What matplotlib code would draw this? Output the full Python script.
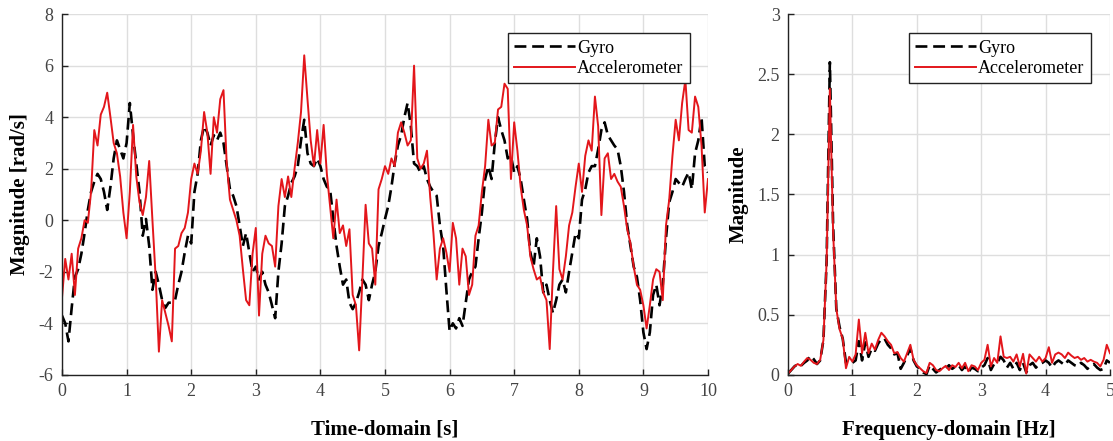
import numpy as np
import matplotlib
matplotlib.use("Agg")
import matplotlib.pyplot as plt
from matplotlib.ticker import FuncFormatter

# time-domain samples, every 0.05 s
time_s = np.round(np.arange(201) * 0.05, 2)

gyro_t = [
    -3.7, -4.0, -4.7, -3.4, -2.2, -1.9, -1.3, -0.5, 0.4, 1.1,
    1.5, 1.8, 1.6, 1.1, 0.4, 1.3, 2.4, 3.1, 2.75, 2.4,
    3.0, 4.55, 3.3, 2.2, 1.1, -0.6, 0.05, -1.0, -2.7, -2.0,
    -2.5, -3.1, -3.4, -3.2, -3.2, -3.1, -2.5, -2.0, -1.25, -0.6,
    -0.9, 1.1, 1.8, 3.1, 3.65, 3.4, 2.9, 3.3, 3.1, 3.4,
    3.0, 2.1, 1.2, 0.95, 0.55, -0.2, -1.0, -0.5, -1.25, -2.0,
    -1.8, -2.3, -2.0, -2.5, -2.8, -3.3, -3.8, -2.0, -0.9, 0.55,
    0.95, 1.45, 1.7, 2.1, 3.1, 3.9, 2.6, 2.2, 2.1, 2.4,
    2.1, 1.6, 1.3, 1.2, 0.05, -1.0, -1.8, -2.5, -2.3, -3.2,
    -3.45, -3.2, -2.8, -2.3, -2.5, -3.1, -2.5, -2.0, -1.0, -0.5,
    0.05, 0.55, 1.3, 2.2, 2.9, 3.3, 4.0, 4.55, 3.65, 2.2,
    2.1, 1.85, 2.1, 1.6, 1.3, 1.1, 0.95, -0.2, -1.0, -2.7,
    -4.3, -4.0, -4.2, -3.8, -4.1, -3.2, -2.3, -2.0, -1.8, -0.7,
    0.3, 1.6, 2.1, 1.6, 3.0, 4.0, 3.5, 3.1, 2.4, 2.5,
    1.85, 2.1, 1.6, 0.8, 0.05, -1.25, -1.8, -0.7, -1.4, -2.8,
    -2.5, -3.1, -3.6, -3.1, -2.5, -2.3, -2.8, -2.0, -1.25, -0.5,
    -0.7, 0.8, 1.2, 1.85, 2.1, 2.1, 2.75, 3.5, 3.8, 3.3,
    3.1, 2.9, 2.75, 2.1, 1.1, -0.2, -1.0, -1.8, -2.2, -3.1,
    -4.35, -5.0, -4.35, -2.9, -2.5, -3.3, -2.5, -0.7, 0.7, 1.1,
    1.6, 1.45, 1.3, 1.6, 1.85, 1.2, 2.6, 3.1, 4.0, 2.1,
    1.85,
]

accel_t = [
    -3.0, -1.5, -2.3, -1.3, -2.9, -1.1, -0.7, 0.0, -0.1, 1.1,
    3.5, 2.9, 4.1, 4.4, 4.95, 4.0, 3.0, 2.6, 1.7, 0.3,
    -0.7, 1.1, 3.7, 1.7, 0.7, 0.2, 0.9, 2.3, 0.0, -2.2,
    -5.1, -3.1, -3.6, -4.1, -4.7, -1.1, -1.0, -0.5, -0.3, 0.3,
    1.6, 2.2, 1.8, 2.7, 4.2, 3.4, 1.8, 4.0, 3.4, 4.7,
    5.05, 2.2, 0.8, 0.4, 0.0, -0.6, -1.9, -3.1, -3.3, -1.3,
    -0.3, -3.7, -1.3, -0.6, -0.9, -1.0, -1.8, 0.55, 1.6, 0.9,
    1.7, 0.9, 2.0, 3.0, 4.2, 6.4, 4.7, 3.1, 2.1, 3.5,
    2.2, 3.7, 1.8, 0.55, -0.7, 0.8, -0.5, -0.2, -1.0, -0.35,
    -2.9, -3.3, -5.05, -2.3, 0.6, -0.9, -1.1, -2.5, 1.2, 1.6,
    2.1, 1.8, 2.4, 2.1, 3.4, 3.8, 3.4, 2.9, 3.1, 6.0,
    2.4, 2.0, 2.2, 2.7, 0.9, -0.5, -2.3, -1.1, -0.7, -1.25,
    -2.0, -0.1, -0.7, -2.5, -1.1, -1.4, -2.9, -2.5, -0.6, -0.2,
    1.1, 2.1, 3.9, 2.9, 3.0, 4.3, 4.4, 5.3, 5.1, 1.6,
    3.8, 2.7, 1.3, 0.4, -0.2, -1.4, -1.9, -2.3, -2.2, -2.8,
    -3.1, -5.0, -2.0, 0.55, -1.9, -2.3, -1.4, -0.2, 0.3, 1.3,
    2.2, 1.1, 2.5, 3.1, 2.7, 4.8, 3.65, 0.2, 2.4, 2.6,
    1.6, 1.8, 1.5, 1.3, 0.55, -0.35, -0.9, -1.8, -2.5, -2.7,
    -3.3, -4.2, -3.3, -2.3, -1.9, -2.0, -3.1, -0.2, 0.8, 2.5,
    3.9, 3.1, 4.55, 5.45, 3.5, 3.4, 4.8, 4.4, 2.9, 0.3,
    1.6,
]

# frequency-domain samples, every 0.05 Hz
freq_hz = np.round(np.arange(101) * 0.05, 2)

gyro_f = [
    0.01, 0.04, 0.07, 0.09, 0.075, 0.10, 0.12, 0.16, 0.13, 0.09,
    0.12, 0.29, 0.95, 2.6, 1.25, 0.55, 0.40, 0.30, 0.10, 0.09,
    0.10, 0.12, 0.28, 0.12, 0.27, 0.15, 0.22, 0.20, 0.26, 0.30,
    0.30, 0.25, 0.22, 0.17, 0.18, 0.05, 0.10, 0.16, 0.22, 0.12,
    0.07, 0.05, 0.02, 0.005, 0.08, 0.05, 0.02, 0.04, 0.06, 0.05,
    0.08, 0.05, 0.07, 0.08, 0.04, 0.07, 0.02, 0.06, 0.05, 0.03,
    0.06, 0.08, 0.14, 0.04, 0.09, 0.10, 0.15, 0.12, 0.06, 0.10,
    0.05, 0.10, 0.04, 0.10, 0.02, 0.08, 0.10, 0.06, 0.09, 0.10,
    0.12, 0.10, 0.06, 0.10, 0.12, 0.10, 0.08, 0.12, 0.10, 0.08,
    0.07, 0.10, 0.08, 0.05, 0.08, 0.09, 0.06, 0.04, 0.05, 0.12,
    0.10,
]

accel_f = [
    0.01, 0.04, 0.07, 0.09, 0.075, 0.11, 0.14, 0.125, 0.10, 0.09,
    0.125, 0.29, 0.95, 2.38, 1.2, 0.55, 0.38, 0.30, 0.055, 0.15,
    0.11, 0.17, 0.46, 0.18, 0.35, 0.18, 0.26, 0.21, 0.29, 0.35,
    0.32, 0.28, 0.25, 0.18, 0.19, 0.14, 0.11, 0.18, 0.25, 0.125,
    0.08, 0.055, 0.03, 0.015, 0.10, 0.08, 0.04, 0.03, 0.055, 0.075,
    0.04, 0.08, 0.065, 0.10, 0.055, 0.10, 0.03, 0.08, 0.07, 0.04,
    0.10, 0.125, 0.25, 0.07, 0.14, 0.10, 0.32, 0.15, 0.14, 0.15,
    0.11, 0.17, 0.07, 0.175, 0.01, 0.17, 0.14, 0.11, 0.15, 0.11,
    0.14, 0.23, 0.10, 0.17, 0.185, 0.17, 0.14, 0.185, 0.16, 0.14,
    0.15, 0.125, 0.14, 0.11, 0.125, 0.11, 0.10, 0.07, 0.125, 0.25,
    0.18,
]

RED = '#e3161b'
plt.rcParams['font.family'] = ['Liberation Serif', 'DejaVu Serif']

fig = plt.figure(figsize=(11.13, 4.41), dpi=100)
ax1 = fig.add_axes([0.0557, 0.150, 0.5804, 0.818])
ax2 = fig.add_axes([0.708, 0.150, 0.2893, 0.818])


def style(ax):
    ax.grid(True, color='#dedede', linewidth=1.0)
    ax.set_axisbelow(True)
    for s in ('top', 'right'):
        ax.spines[s].set_visible(False)
    for s in ('left', 'bottom'):
        ax.spines[s].set_linewidth(1.0)
        ax.spines[s].set_color('#222222')
    ax.tick_params(direction='in', length=4, width=1, labelsize=13,
                   labelcolor='#444444', color='#222222', pad=6)
    ax.yaxis.set_major_formatter(FuncFormatter(lambda v, p: '%g' % v))


ax1.plot(time_s, gyro_t, color='black', lw=1.9, dashes=(4.5, 2.2), label='Gyro')
ax1.plot(time_s, accel_t, color=RED, lw=1.4, label='Accelerometer')
ax1.set_xlim(0, 10)
ax1.set_ylim(-6, 8)
ax1.set_xticks(range(0, 11))
ax1.set_yticks(range(-6, 9, 2))
style(ax1)
ax1.set_xlabel('Time-domain [s]', fontsize=15, fontweight='bold', labelpad=14)
ax1.set_ylabel('Magnitude [rad/s]', fontsize=15, fontweight='bold', labelpad=6)

ax2.plot(freq_hz, gyro_f, color='black', lw=1.9, dashes=(4.5, 2.2), label='Gyro')
ax2.plot(freq_hz, accel_f, color=RED, lw=1.4, label='Accelerometer')
ax2.set_xlim(0, 5)
ax2.set_ylim(0, 3)
ax2.set_xticks(range(0, 6))
ax2.set_yticks(np.arange(0, 3.01, 0.5))
style(ax2)
ax2.set_xlabel('Frequency-domain [Hz]', fontsize=15, fontweight='bold', labelpad=14)
ax2.set_ylabel('Magnitude', fontsize=15, fontweight='bold', labelpad=6)

for ax, anchor in ((ax1, (0.972, 0.947)), (ax2, (0.941, 0.947))):
    leg = ax.legend(loc='upper right', bbox_to_anchor=anchor, borderaxespad=0,
                    fontsize=13, handlelength=3.4, handletextpad=0.1,
                    labelspacing=0.2, borderpad=0.35, fancybox=False,
                    framealpha=1, edgecolor='#222222')
    leg.get_frame().set_linewidth(1.0)

fig.savefig('out.png', dpi=100)
